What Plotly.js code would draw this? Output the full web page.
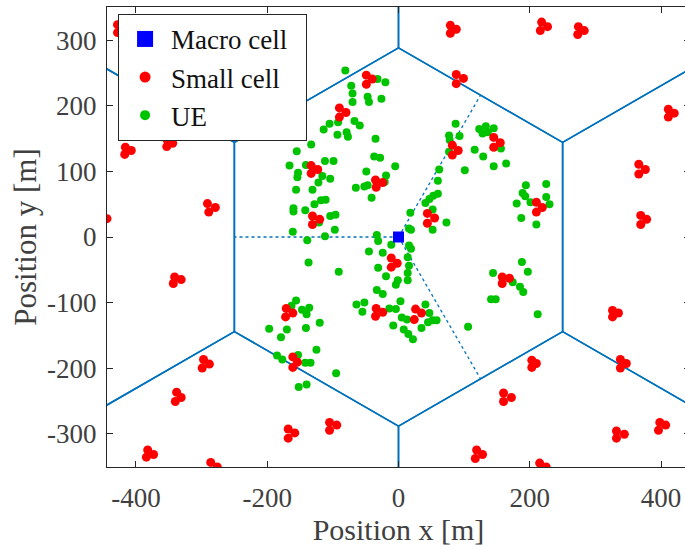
<!DOCTYPE html>
<html>
<head>
<meta charset="utf-8">
<script src="https://cdn.plot.ly/plotly-3.0.1.min.js"></script>
<style>html,body{margin:0;padding:0;overflow:hidden;background:#fff}#chart{width:690px;height:548px}</style>
</head>
<body>
<div id="chart"></div>
<script>
// ---- data ----
const mcX = [0];
const mcY = [0];
const hexCenterX = [0, 500, 250, -250, -500, -250, 250];
const hexCenterY = [0, 0, 433.01, 433.01, 0, -433.01, -433.01];
const ISD = 500;
const sectorAngles = [180, 60, -60];

const xTickVals = [-400, -200, 0, 200, 400];
const xTickText = ['-400', '-200', '0', '200', '400'];
const yTickVals = [-300, -200, -100, 0, 100, 200, 300];
const yTickText = ['-300', '-200', '-100', '0', '100', '200', '300'];
const legendNames = ['Macro cell\u00a0\u00a0', 'Small cell', 'UE'];

const scX = [-416,-407,-417, -353,-344,-353, -428,-428,-418, -444,-455,-455, -291,-279,-289,
  -341,-331,-343, -297,-288,-299, -338,-331,-340, -382,-373,-384, -286,-276,-287,
  -171,-161,-172, -161,-154,-161, -168,-158,-168, -105,-94,-105,
  326,335,326, 203,210,203, 160,172,160, 338,347,338, 398,407,396, 332,344,332, 119,128,117, 215,225,214,
  79,88,79, 218,227,216, 274,283,273, 88,99,88, 411,420,411, 366,376,366, 369,378,369,
  145,155,145, 82,91,82, 210,219,210, 44,55,44, -49,-40,-49, -11,-2,-11, 158,169,158,
  -90,-80,-90, -133,-123,-133, -131,-120,-131, -35,-24,-34, -34,-24,-35, 26,35,24];
const scY = [137,132,126, 138,143,149, 324,312,318, 28,33,22, 51,45,38,
  -61,-65,-71, -187,-194,-200, -237,-245,-251, -325,-332,-336, -344,-351,-358,
  -109,-116,-122, -183,-191,-199, -293,-299,-307, -283,-287,-295,
  -112,-116,-122, -188,-193,-199, -238,-245,-251, -187,-193,-200, -283,-287,-295, -296,-301,-307, -325,-332,-338, -345,-351,-357,
  323,317,311, 328,321,315, 321,315,309, 248,242,234, 195,189,183, 111,103,96, 33,27,19,
  152,144,137, 140,132,125, 53,45,38, 36,29,21, 247,241,233, -32,-40,-46, -61,-63,-71,
  197,190,183, 109,103,97, 32,27,19, 87,83,76, -109,-115,-121, -110,-116,-126];

const ueX = [-81,-72,-70,-70,-47,-45,-26,-20,-32,
  -114,-105,-92,-93,-79,-77,-67,-59,-35,
  -133,-155,-37,-28,-112,-99,-166,-141,-49,
  -153,-154,-116,-122,-104,-5,-19,-21,-65,-52,-47,-41,
  -156,-131,-128,-118,-111,-142,-160,-160,-104,-96,-121,-97,
  -161,-139,-112,-137,-91,
  -33,-31,-45,-24,-11,-31,-19,16,19,14,16,14,
  -4,-1,14,-33,-24,3,41,47,-14,-4,5,13,
  45,52,58,-8,35,8,15,22,106,
  41,47,53,60,60,52,18,73,52,16,19,
  -64,-52,-55,
  -156,-163,-147,-136,-140,-197,-170,-179,-141,-120,
  -125,-185,-177,-153,-142,-134,-95,-152,-140,
  87,77,78,93,77,62,101,116,129,145,164,
  123,133,145,128,136,156,
  194,189,193,225,180,201,225,230,187,210,
  188,197,144,174,185,190,141,148,212];
const ueY = [254,231,219,206,214,206,211,236,241,
  164,173,175,156,160,153,177,170,150,
  141,131,123,121,116,116,109,110,100,
  98,91,93,83,89,108,94,84,75,77,79,60,
  72,72,50,56,57,41,44,39,32,34,22,11,
  8,-5,1,-39,-53,
  3,-6,-22,-24,-12,-47,-60,-13,-18,-31,-44,-55,
  -73,-66,-66,-81,-87,-98,-103,-116,-109,-110,-123,-126,
  -130,-127,-127,-135,-139,-141,-148,-156,-137,
  52,58,63,66,86,42,37,22,11,13,11,
  -103,-100,-114,
  -97,-105,-111,-108,-118,-140,-141,-153,-139,-131,
  -172,-181,-187,-180,-192,-192,-208,-229,-225,
  173,155,148,154,130,103,102,133,123,108,112,
  165,169,166,158,160,135,
  79,67,62,81,51,53,61,50,29,19,
  -38,-53,-55,-69,-76,-84,-95,-95,-118];

// ---- geometry from the layout parameters ----
const R = ISD / Math.sqrt(3);
const hexX = [], hexY = [];
hexCenterX.forEach((cx, i) => {
  const cy = hexCenterY[i];
  for (let k = 0; k <= 6; k++) {
    const a = (90 - 60 * k) * Math.PI / 180;
    hexX.push(cx + R * Math.cos(a));
    hexY.push(cy + R * Math.sin(a));
  }
  hexX.push(null); hexY.push(null);
});
const secX = [], secY = [];
sectorAngles.forEach(d => {
  const a = d * Math.PI / 180;
  secX.push(mcX[0], mcX[0] + ISD / 2 * Math.cos(a), null);
  secY.push(mcY[0], mcY[0] + ISD / 2 * Math.sin(a), null);
});

const FONT = '"Liberation Serif", "Times New Roman", serif';
const TXT = '#404040';
const AX = '#262626';
const LINEC = '#0072BD';
const RED = '#ff0000';
const GREEN = 'rgb(0,195,0)';
const BLUE = '#0000ff';

const traces = [
  {x: hexX, y: hexY, mode: 'lines', line: {color: LINEC, width: 1.6}, showlegend: false, hoverinfo: 'skip'},
  {x: secX, y: secY, mode: 'lines', line: {color: LINEC, width: 1.3, dash: 'dot'}, showlegend: false, hoverinfo: 'skip'},
  {x: ueX, y: ueY, mode: 'markers', marker: {color: GREEN, size: 8}, showlegend: false},
  {x: scX, y: scY, mode: 'markers', marker: {color: RED, size: 9}, showlegend: false},
  {x: mcX, y: mcY, mode: 'markers', marker: {color: BLUE, size: 11, symbol: 'square'}, showlegend: false},
  // legend entries
  {x: [null], y: [null], mode: 'markers', name: legendNames[0], marker: {color: BLUE, size: 16, symbol: 'square'}},
  {x: [null], y: [null], mode: 'markers', name: legendNames[1], marker: {color: RED, size: 11}},
  {x: [null], y: [null], mode: 'markers', name: legendNames[2], marker: {color: GREEN, size: 10}}
];

const axisBase = {
  showgrid: false, zeroline: false, showline: true, linecolor: AX, linewidth: 1,
  mirror: 'ticks', ticks: 'inside', ticklen: 6, tickwidth: 1, tickcolor: AX,
  tickmode: 'array', tickfont: {family: FONT, size: 27, color: TXT}, automargin: false
};

const layout = {
  width: 690, height: 548,
  margin: {l: 107, r: 0, t: 7, b: 81},
  paper_bgcolor: '#fff', plot_bgcolor: '#fff',
  font: {family: FONT, color: TXT},
  xaxis: Object.assign({}, axisBase, {range: [-444, 444], tickvals: xTickVals, ticktext: xTickText, ticklabelstandoff: 7,
    title: {text: 'Position x [m]', font: {family: FONT, size: 30, color: TXT}, standoff: 6}}),
  yaxis: Object.assign({}, axisBase, {range: [-351, 351], tickvals: yTickVals, ticktext: yTickText, ticklabelstandoff: 4,
    title: {text: 'Position y [m]', font: {family: FONT, size: 31, color: TXT}, standoff: 1}}),
  showlegend: true,
  legend: {x: 0.019, y: 0.985, xanchor: 'left', yanchor: 'top', bgcolor: '#fff', bordercolor: AX, borderwidth: 1,
    font: {family: FONT, size: 27, color: '#111'}, itemwidth: 42}
};

Plotly.newPlot('chart', traces, layout, {displayModeBar: false, staticPlot: true});
</script>
</body>
</html>
